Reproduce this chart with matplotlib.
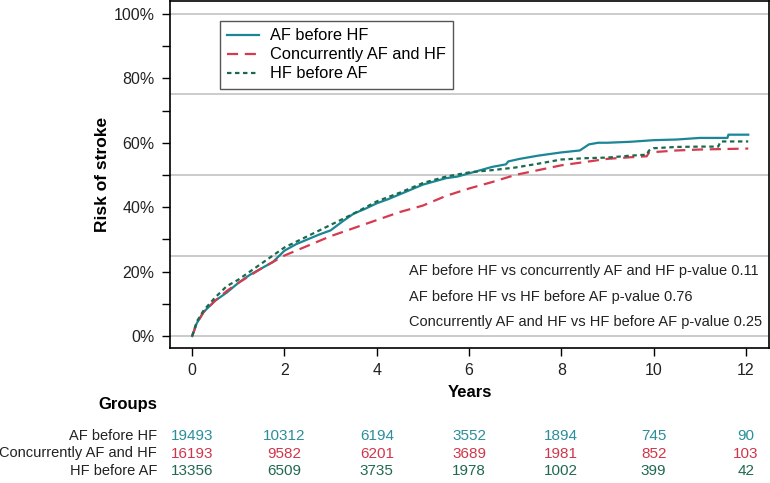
#!/usr/bin/env python
# Cumulative risk of stroke by timing of AF and HF diagnosis, with numbers at risk
import matplotlib.pyplot as plt
import matplotlib.transforms as mtransforms

plt.rcParams['font.family'] = ['Liberation Sans', 'DejaVu Sans']

# Data =====================================
groups = ['AF before HF', 'Concurrently AF and HF', 'HF before AF']

yrs_af = [0, 0.1, 0.25, 0.5, 0.75, 1, 1.25, 1.5, 1.75, 2, 2.25, 2.5, 2.75, 3, 3.25, 3.5,
          3.75, 4, 4.25, 4.5, 4.75, 5, 5.25, 5.5, 5.75, 6, 6.25, 6.5, 6.8, 6.85, 7.1, 7.5,
          8, 8.4, 8.6, 8.8, 9, 9.5, 10, 10.5, 11, 11.6, 11.62, 12.05]
risk_af = [0, 4, 7.5, 11, 13.5, 16.5, 19, 21, 23, 26.5, 28.5, 30, 31.5, 32.8, 35.5, 38,
           39.5, 41.2, 42.5, 44, 45.5, 47, 48, 49, 49.5, 50.5, 51.5, 52.5, 53.3, 54.2, 55, 56,
           57, 57.6, 59.5, 60, 60, 60.3, 60.8, 61, 61.5, 61.5, 62.5, 62.5]

yrs_cc = [0, 0.1, 0.25, 0.5, 0.75, 1, 1.5, 2, 2.5, 3, 3.5, 4, 4.5, 5, 5.5, 6, 6.5, 7,
          7.5, 8, 8.5, 9, 9.5, 9.85, 9.9, 10.5, 11, 12.05]
risk_cc = [0, 4, 7.5, 11, 14, 16.5, 21, 25, 28, 31, 33.5, 36, 38.5, 40.5, 43.5, 45.8, 47.8, 50,
           51.5, 53, 54, 55, 55.5, 55.8, 57, 57.6, 57.9, 58.2]

yrs_hf = [0, 0.1, 0.25, 0.5, 0.75, 1, 1.5, 2, 2.5, 3, 3.5, 4, 4.5, 5, 5.5, 6, 6.5, 7,
          7.5, 8, 8.5, 9, 9.5, 9.85, 9.9, 10, 10.5, 11, 11.4, 11.45, 12.05]
risk_hf = [0, 4.5, 8, 12, 15.5, 17.5, 22.5, 27.5, 31, 34.5, 38, 41.8, 44.5, 47.5, 49.5, 50.8,
           51.5, 52.3, 53.5, 54.8, 55.2, 55.4, 56, 56.3, 57.6, 58.3, 58.7, 58.8, 58.8, 60.4, 60.4]

pvals = ['AF before HF vs concurrently AF and HF p-value 0.11',
         'AF before HF vs HF before AF p-value 0.76',
         'Concurrently AF and HF vs HF before AF p-value 0.25']

risk_years = [0, 2, 4, 6, 8, 10, 12]
at_risk = [[19493, 10312, 6194, 3552, 1894, 745, 90],
           [16193, 9582, 6201, 3689, 1981, 852, 103],
           [13356, 6509, 3735, 1978, 1002, 399, 42]]

# Styles ===================================
cols = ['#1a8696', '#d63a4f', '#1b6a4e']
txtcols = ['#2a8e9c', '#d0364b', '#1f6a4f']

fig = plt.figure(figsize=(7.7, 4.83), dpi=100)
ax = fig.add_axes([0.2208, 0.2795, 0.7779, 0.7185])

# grid lines at quarters
for g in [0, 25, 50, 75, 100]:
    ax.axhline(g, color='#bdbdbd', lw=1.1, zorder=0)

ax.plot(yrs_af, risk_af, color=cols[0], lw=1.6, label=groups[0])
ax.plot(yrs_cc, risk_cc, color=cols[1], lw=1.6, dashes=(5, 3), label=groups[1])
ax.plot(yrs_hf, risk_hf, color=cols[2], lw=1.6, dashes=(2, 1.6), label=groups[2])

ax.set_xlim(-0.48, 12.5)
ax.set_ylim(-3.7, 104)
ax.set_xticks(range(0, 13, 2))
ax.set_yticks(range(0, 101, 20))
ax.set_yticks(range(10, 100, 20), minor=True)
ax.set_yticklabels([str(v) + '%' for v in range(0, 101, 20)])
ax.tick_params(which='both', direction='out', length=6, width=1, labelsize=11.5,
               labelcolor='#222222', pad=5)
for s in ax.spines.values():
    s.set_linewidth(1.2)

ax.set_xlabel('Years', fontsize=12, fontweight='bold', labelpad=5)
ax.set_ylabel('Risk of stroke', fontsize=12.5, fontweight='bold', labelpad=3)

leg = ax.legend(loc='upper left', bbox_to_anchor=(0.0835, 0.9425), fontsize=11.8,
                fancybox=False, framealpha=1, edgecolor='#555555', borderpad=0.45,
                handlelength=1.9, handletextpad=0.7, labelspacing=0.25, borderaxespad=0)
leg.get_frame().set_linewidth(1.0)

# p-values
for i, t in enumerate(pvals):
    fig.text(409 / 770, 1 - (271 + 25.5 * i) / 483, t, fontsize=10.5, color='#222222',
             va='center', ha='left')

# numbers at risk table
trans = mtransforms.blended_transform_factory(ax.transData, fig.transFigure)
fig.text(157 / 770, 1 - 405 / 483, 'Groups', fontsize=12, fontweight='bold',
         ha='right', va='center')
row_y = [436, 453.5, 471]
for i in range(len(groups)):
    fig.text(157 / 770, 1 - row_y[i] / 483, groups[i], fontsize=10.5, ha='right',
             va='center', color='#222222')
    for j in range(len(risk_years)):
        ax.text(risk_years[j], 1 - row_y[i] / 483, str(at_risk[i][j]), transform=trans,
                fontsize=11, ha='center', va='center', color=txtcols[i])

plt.savefig('out.png', dpi=100)
plt.close()
